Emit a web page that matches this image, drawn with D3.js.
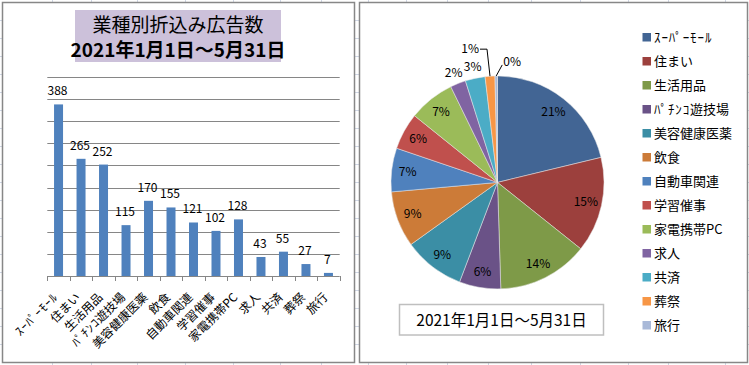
<!DOCTYPE html>
<html><head><meta charset="utf-8">
<script src="https://cdn.jsdelivr.net/npm/d3@7"></script>
<style>
body{margin:0;background:#fff;}
svg{display:block;font-family:"Noto Sans CJK JP","Noto Sans",sans-serif;}
</style></head>
<body><svg id="c" width="749" height="365"></svg>
<script>
const categories = ["ｽｰﾊﾟｰﾓｰﾙ","住まい","生活用品","ﾊﾟﾁﾝｺ遊技場","美容健康医薬","飲食","自動車関連","学習催事","家電携帯PC","求人","共済","葬祭","旅行"];
const counts = [388,265,252,115,170,155,121,102,128,43,55,27,7];
const pieLabels = ["21%","15%","14%","6%","9%","9%","7%","6%","7%","2%","3%","1%","0%"];
const yTicks = [0,50,100,150,200,250,300,350,400,450];
const sliceColors = ["#426594","#9c403d","#7e9a48","#6a5287","#3b8ea5","#cc7b38","#4f81bd","#c0504d","#9bbb59","#8064a2","#4bacc6","#f79646","#a9b9d8"];
const titleLines = ["業種別折込み広告数","2021年1月1日～5月31日"];
const dateText = "2021年1月1日～5月31日";

const svg = d3.select("#c");
svg.append("rect").attr("width",749).attr("height",365).attr("fill","#fff");

// write text, widening half-width katakana runs a little
function richText(sel, s){
  const runs = s.match(/[\uFF61-\uFF9F]+|[^\uFF61-\uFF9F]+/g) || [];
  runs.forEach(r=>{
    const t = sel.append("tspan").text(r);
    if(/[\uFF61-\uFF9F]/.test(r)) t.attr("letter-spacing","0.9px");
  });
}

// spreadsheet cell grid in margins
const grid = svg.append("g").attr("stroke","#d0d7e5").attr("stroke-width",1);
[52.5,91.5,137.5,185.5,233.5,280.5,321.5,368.5,406.5,447.5,488.5,531.5,580.5,628.5,668.5,725.5].forEach(x=>{
  grid.append("line").attr("x1",x).attr("x2",x).attr("y1",0).attr("y2",2);
  grid.append("line").attr("x1",x).attr("x2",x).attr("y1",363).attr("y2",365);
});
for(let y=20.5;y<362;y+=18){
  grid.append("line").attr("x1",355).attr("x2",359).attr("y1",y).attr("y2",y);
  grid.append("line").attr("x1",0).attr("x2",2).attr("y1",y).attr("y2",y);
  grid.append("line").attr("x1",748).attr("x2",749).attr("y1",y).attr("y2",y);
}

// panels
svg.append("rect").attr("x",2.5).attr("y",2.5).attr("width",352).attr("height",360)
  .attr("fill","#fff").attr("stroke","#878787").attr("stroke-width",1.5);
svg.append("rect").attr("x",359.5).attr("y",2.5).attr("width",388).attr("height",360)
  .attr("fill","#fff").attr("stroke","#878787").attr("stroke-width",1.5);

// ---- bar chart ----
const x = d3.scaleBand().domain(categories).range([47.3,339.7]).paddingInner(0.6).paddingOuter(0.3);
const y = d3.scaleLinear().domain([0,450]).range([276,77]);
const step = x.step();
const bc = svg.append("g");
bc.selectAll("line.grid").data(yTicks).join("line")
  .attr("x1",47.3).attr("x2",339.7)
  .attr("y1",d=>Math.round(y(d))+0.5).attr("y2",d=>Math.round(y(d))+0.5)
  .attr("stroke","#868686").attr("stroke-width",1);
bc.selectAll("line.tick").data(d3.range(categories.length+1)).join("line")
  .attr("x1",i=>Math.round(47.3+i*step)+0.5).attr("x2",i=>Math.round(47.3+i*step)+0.5)
  .attr("y1",276).attr("y2",281).attr("stroke","#868686");
bc.selectAll("rect.bar").data(counts).join("rect")
  .attr("x",(d,i)=>x(categories[i])).attr("width",x.bandwidth())
  .attr("y",d=>y(d)).attr("height",d=>y(0)-y(d)).attr("fill","#4f81bd");
bc.selectAll("text.val").data(counts).join("text")
  .attr("x",(d,i)=>x(categories[i])+x.bandwidth()/2-1).attr("y",d=>y(d)-9)
  .attr("text-anchor","middle").attr("font-size",12).attr("fill","#000").text(d=>d);
bc.selectAll("text.cat").data(categories).join("text")
  .attr("transform",d=>`translate(${x(d)+x.bandwidth()/2},298) rotate(-45)`)
  .attr("text-anchor","end").attr("font-size",12).attr("fill","#000")
  .each(function(d){ richText(d3.select(this), d); });

// title
svg.append("rect").attr("x",75).attr("y",10).attr("width",206).attr("height",52).attr("fill","#ccc1da");
svg.append("text").attr("x",178).attr("y",32).attr("text-anchor","middle").attr("font-size",19).text(titleLines[0]);
svg.append("text").attr("x",178).attr("y",57).attr("text-anchor","middle").attr("font-size",19).attr("font-weight","bold").text(titleLines[1]);

// ---- pie ----
const cx = 497.5, cy = 182.4, R = 106.5;
const pie = d3.pie().sort(null).value(d=>d);
const arcs = pie(counts);
const arc = d3.arc().innerRadius(0).outerRadius(R);
const pg = svg.append("g").attr("transform",`translate(${cx},${cy})`);
pg.selectAll("path").data(arcs).join("path").attr("d",arc)
  .attr("fill",(d,i)=>sliceColors[i]).attr("stroke","#e8e8e8").attr("stroke-width",0.5);
const polar = (a,r)=>[r*Math.sin(a), -r*Math.cos(a)];
arcs.forEach((a,i)=>{
  const mid = (a.startAngle+a.endAngle)/2;
  const frac = (a.endAngle-a.startAngle)/(2*Math.PI);
  if(frac>=0.04){
    const [px,py] = polar(mid, R*0.85);
    pg.append("text").attr("x",px).attr("y",py+4.5).attr("text-anchor","middle").attr("font-size",12).text(pieLabels[i]);
  } else if(frac>=0.02){
    const [px,py] = polar(mid, R+12);
    pg.append("text").attr("x",px).attr("y",py+4.5).attr("text-anchor","middle").attr("font-size",12).text(pieLabels[i]);
  } else if(frac>=0.01){
    const [sx,sy] = polar(mid, R);
    const ex = sx-3, ey = sy-27;
    pg.append("path").attr("d",`M${sx},${sy}L${ex},${ey}L${ex-7},${ey}`).attr("fill","none").attr("stroke","#000").attr("stroke-width",1);
    pg.append("text").attr("x",ex-8).attr("y",ey+4).attr("text-anchor","end").attr("font-size",12).text(pieLabels[i]);
  } else {
    const [sx,sy] = polar(mid, R);
    const ex = sx+6, ey = sy-11;
    pg.append("path").attr("d",`M${sx},${sy}L${ex},${ey}`).attr("fill","none").attr("stroke","#000").attr("stroke-width",1);
    pg.append("text").attr("x",ex+1).attr("y",ey+1).attr("text-anchor","start").attr("font-size",12).text(pieLabels[i]);
  }
});

// date box
svg.append("rect").attr("x",399.5).attr("y",304.5).attr("width",204).attr("height",30.5)
  .attr("fill","#fff").attr("stroke","#bfbfbf").attr("stroke-width",1.5);
svg.append("text").attr("x",501.5).attr("y",325.5).attr("text-anchor","middle").attr("font-size",15.5).text(dateText);

// legend
const lg = svg.append("g");
categories.forEach((c,i)=>{
  const yc = 37 + i*24;
  lg.append("rect").attr("x",642.5).attr("y",yc-4).attr("width",8.5).attr("height",8.5).attr("fill",sliceColors[i]);
  const t = lg.append("text").attr("x",654).attr("y",yc+5).attr("font-size",13);
  richText(t, c);
});
</script></body></html>
